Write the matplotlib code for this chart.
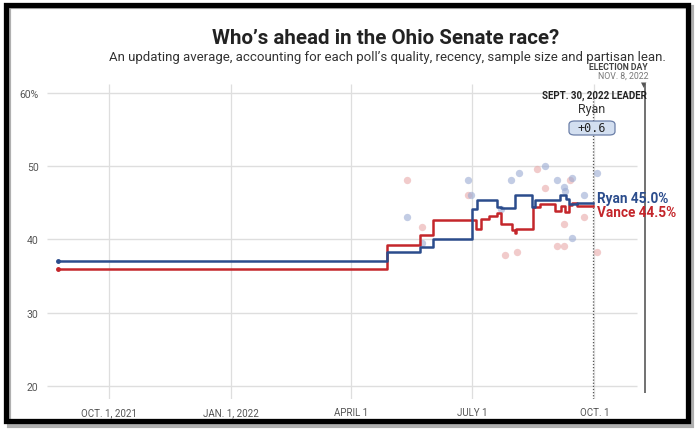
import datetime as dt
import matplotlib
matplotlib.use("Agg")
import matplotlib.pyplot as plt
from matplotlib.patches import Rectangle, FancyBboxPatch

# polling averages (step changes)
ryan_dates = ["2021-08-24", "2022-04-28", "2022-05-23", "2022-06-02", "2022-07-01",
              "2022-07-05", "2022-07-20", "2022-07-23", "2022-08-02", "2022-08-15",
              "2022-08-17", "2022-09-05", "2022-09-10", "2022-09-12", "2022-09-18",
              "2022-09-30"]
ryan_vals = [37.0, 38.3, 39.0, 40.1, 44.2, 45.3, 44.4, 44.3, 46.0, 44.4,
             45.3, 46.0, 45.5, 44.8, 45.0, 45.0]

vance_dates = ["2021-08-24", "2022-04-28", "2022-05-23", "2022-06-02", "2022-07-01",
               "2022-07-04", "2022-07-08", "2022-07-14", "2022-07-20", "2022-07-23",
               "2022-07-31", "2022-08-02", "2022-08-03", "2022-08-16", "2022-08-21",
               "2022-09-01", "2022-09-06", "2022-09-09", "2022-09-12", "2022-09-14",
               "2022-09-18", "2022-09-30"]
vance_vals = [36.0, 39.2, 40.6, 42.6, 42.7, 41.4, 42.8, 43.2, 43.6, 42.1,
              41.3, 40.8, 41.4, 44.4, 44.8, 43.9, 44.6, 43.7, 44.7, 45.0,
              44.6, 44.5]

# individual polls
ryan_poll_dates = ["2022-05-13", "2022-05-24", "2022-06-28", "2022-06-30", "2022-07-23",
                   "2022-07-30", "2022-08-05", "2022-08-25", "2022-09-03", "2022-09-08",
                   "2022-09-09", "2022-09-14", "2022-09-14", "2022-09-23", "2022-10-03"]
ryan_poll_vals = [43.1, 39.5, 48.1, 46.1, 44.2, 48.1, 49.1, 50.0, 48.1, 47.2,
                  46.6, 48.4, 40.2, 46.1, 49.1]

vance_poll_dates = ["2022-05-13", "2022-05-24", "2022-06-28", "2022-07-26", "2022-08-04",
                    "2022-08-19", "2022-08-25", "2022-09-03", "2022-09-08", "2022-09-08",
                    "2022-09-13", "2022-09-23", "2022-10-03"]
vance_poll_vals = [48.1, 41.7, 46.1, 37.9, 38.2, 49.6, 47.0, 39.1, 39.1, 42.1,
                   48.1, 43.1, 38.2]

tick_dates = ["2021-10-01", "2022-01-01", "2022-04-01", "2022-07-01", "2022-10-01"]
tick_labels = ["OCT. 1, 2021", "JAN. 1, 2022", "APRIL 1", "JULY 1", "OCT. 1"]
y_ticks = [20, 30, 40, 50, 60]
y_labels = ["20", "30", "40", "50", "60%"]

BLUE = "#2b4c8c"
RED = "#c4262b"
GRID = "#dedede"
FONT = ["Roboto", "DejaVu Sans"]


def d(s):
    return dt.datetime.strptime(s, "%Y-%m-%d")


fig = plt.figure(figsize=(7, 4.35), dpi=100)
ax = fig.add_axes([47 / 700, 1 - 400 / 435, 603 / 700, 315 / 435])

origin = d("2021-10-01")
xmin = origin - dt.timedelta(days=46.6)
xmax = origin + dt.timedelta(days=406.8)
ax.set_xlim(xmin, xmax)
ax.set_ylim(18.2, 61.2)

# horizontal grid stops short of election day
ax.hlines(y_ticks, xmin, origin + dt.timedelta(days=397), color=GRID, lw=1, zorder=0)
for t in tick_dates:
    ax.vlines(d(t), 18.2, 61.2, color=GRID, lw=0.9, zorder=0)

ax.scatter([d(s) for s in vance_poll_dates], vance_poll_vals, s=28, color="#e9a9a9",
           alpha=0.6, lw=0, zorder=1)
ax.scatter([d(s) for s in ryan_poll_dates], ryan_poll_vals, s=28, color="#9aaad2",
           alpha=0.6, lw=0, zorder=1)

ax.plot([d(s) for s in vance_dates], vance_vals, drawstyle="steps-post", color=RED, lw=1.8, zorder=3)
ax.plot([d(s) for s in ryan_dates], ryan_vals, drawstyle="steps-post", color=BLUE, lw=1.8, zorder=4)
ax.plot(d(ryan_dates[0]), ryan_vals[0], "o", ms=2.5, color=BLUE, zorder=5)
ax.plot(d(vance_dates[0]), vance_vals[0], "o", ms=2.5, color=RED, zorder=5)

# leader line on Sept 30 and election day line
sep30 = d("2022-09-30")
eday = d("2022-11-08")
ax.vlines(sep30, 18.2, 59.4, color="#555555", lw=0.9, linestyles=(0, (1, 1.5)), zorder=2)
ax.vlines(eday, 19.0, 61.2, color="#666666", lw=1.3, zorder=2)

for s in ax.spines.values():
    s.set_visible(False)
ax.set_xticks([d(t) for t in tick_dates])
ax.set_xticklabels(tick_labels, fontsize=7, color="#555555", family=FONT)
ax.set_yticks(y_ticks)
ax.set_yticklabels(y_labels, fontsize=7.5, color="#555555", family=FONT)
ax.tick_params(length=0, pad=6)

ax.text(d("2022-10-03"), 45.6, "Ryan 45.0%", color=BLUE, fontsize=9.8, fontweight="bold",
        va="center", ha="left", family=FONT)
ax.text(d("2022-10-03"), 43.7, "Vance 44.5%", color=RED, fontsize=9.8, fontweight="bold",
        va="center", ha="left", family=FONT)

# header texts
fig.text(0.551, 1 - 38 / 435, "Who\u2019s ahead in the Ohio Senate race?", fontsize=14.8,
         fontweight="bold", ha="center", va="center", color="#222222", family=FONT)
fig.text(0.553, 1 - 57 / 435,
         "An updating average, accounting for each poll\u2019s quality, recency, sample size and partisan lean.",
         fontsize=9.5, ha="center", va="center", color="#333333", family=FONT)
fig.text(648 / 700, 1 - 67 / 435, "ELECTION DAY", fontsize=6.3, fontweight="bold",
         ha="right", va="center", color="#444444", family=FONT)
fig.text(648 / 700, 1 - 76 / 435, "NOV. 8, 2022", fontsize=6.3, ha="right", va="center",
         color="#777777", family=FONT)
fig.text(644 / 700, 1 - 85 / 435, "\u25bc", fontsize=5, ha="center", va="center", color="#555555")
fig.text(647 / 700, 1 - 96 / 435, "SEPT. 30, 2022 LEADER", fontsize=7, fontweight="bold",
         ha="right", va="center", color="#222222", family=FONT)
fig.text(592 / 700, 1 - 110 / 435, "Ryan", fontsize=9, ha="center", va="center",
         color="#333333", family=FONT)
box = FancyBboxPatch((569 / 700, 1 - 136 / 435), 46 / 700, 14 / 435,
                     boxstyle="round,pad=0,rounding_size=0.008", transform=fig.transFigure,
                     facecolor="#d3dff0", edgecolor="#6b7fa8", lw=0.9, zorder=5)
fig.patches.append(box)
fig.text(592 / 700, 1 - 129 / 435, "+0.6", fontsize=8.5, ha="center", va="center",
         family="DejaVu Sans Mono", color="#222222", zorder=6)

# screenshot frame with shadow
fig.patches.append(Rectangle((9 / 700, 1 - 427 / 435), 683 / 700, 419 / 435,
                             transform=fig.transFigure, fill=False, edgecolor="#b0b0b0",
                             lw=3, zorder=0))
fig.patches.append(Rectangle((5.5 / 700, 1 - 422 / 435), 682 / 700, 416.5 / 435,
                             transform=fig.transFigure, fill=False, edgecolor="black",
                             lw=3.8, zorder=1))

fig.savefig("out.png", dpi=100)
